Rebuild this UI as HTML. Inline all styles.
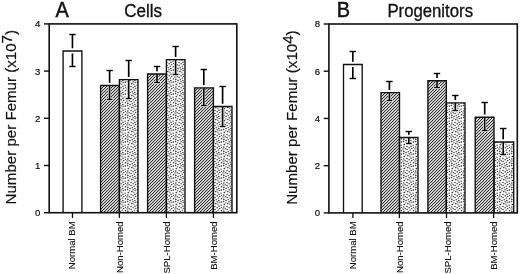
<!DOCTYPE html>
<html><head><meta charset="utf-8"><style>
html,body{margin:0;padding:0;background:#fff;}
body{width:520px;height:274px;overflow:hidden;}
svg{display:block;font-family:"Liberation Sans", sans-serif;will-change:transform;}
text{fill:#111;stroke:#111;stroke-width:0.2px;}
</style></head><body>
<svg width="520" height="274" viewBox="0 0 520 274">
<defs>
<pattern id="hatch" patternUnits="userSpaceOnUse" width="3" height="3">
<rect width="3" height="3" fill="#fff"/>
<path d="M0.375,0 L1.625,0 L0,1.625 L0,0.375 Z M3,0.375 L3,1.625 L1.625,3 L0.375,3 Z" fill="#0a0a0a"/>
</pattern>
<pattern id="dots" patternUnits="userSpaceOnUse" width="12" height="12">
<rect width="12" height="12" fill="#fff"/>
<g fill="#3a3a3a">
<circle cx="5.43" cy="6.72" r="0.81"/>
<circle cx="-0.91" cy="5.59" r="0.76"/>
<circle cx="11.09" cy="5.59" r="0.76"/>
<circle cx="2.22" cy="6.14" r="0.71"/>
<circle cx="7.56" cy="9.52" r="0.82"/>
<circle cx="1.13" cy="3.64" r="0.76"/>
<circle cx="1.09" cy="9.72" r="0.73"/>
<circle cx="8.32" cy="0.50" r="0.84"/>
<circle cx="8.32" cy="12.50" r="0.84"/>
<circle cx="-0.21" cy="-0.42" r="0.78"/>
<circle cx="-0.21" cy="11.58" r="0.78"/>
<circle cx="11.79" cy="-0.42" r="0.78"/>
<circle cx="11.79" cy="11.58" r="0.78"/>
<circle cx="7.85" cy="7.39" r="0.83"/>
<circle cx="1.89" cy="0.18" r="0.66"/>
<circle cx="1.89" cy="12.18" r="0.66"/>
<circle cx="5.29" cy="10.11" r="0.81"/>
<circle cx="5.49" cy="3.34" r="0.66"/>
<circle cx="10.08" cy="8.49" r="0.81"/>
<circle cx="9.20" cy="4.80" r="0.72"/>
<circle cx="2.99" cy="2.28" r="0.82"/>
<circle cx="5.06" cy="1.25" r="0.69"/>
<circle cx="2.86" cy="8.45" r="0.82"/>
<circle cx="-0.99" cy="2.45" r="0.77"/>
<circle cx="11.01" cy="2.45" r="0.77"/>
<circle cx="0.26" cy="7.63" r="0.71"/>
<circle cx="12.26" cy="7.63" r="0.71"/>
<circle cx="3.74" cy="4.57" r="0.71"/>
<circle cx="9.79" cy="10.81" r="0.67"/>
<circle cx="6.99" cy="5.03" r="0.67"/>
<circle cx="7.79" cy="2.95" r="0.79"/>
<circle cx="3.20" cy="10.55" r="0.70"/>
</g>
</pattern>
</defs>
<rect width="520" height="274" fill="#fff"/>
<rect x="63.10" y="51.00" width="18.80" height="161.70" fill="#fff"/>
<line x1="72.45" y1="34.50" x2="72.45" y2="66.50" stroke="#000" stroke-width="1.65"/>
<line x1="69.25" y1="34.50" x2="75.65" y2="34.50" stroke="#000" stroke-width="1.4"/>
<line x1="69.25" y1="66.50" x2="75.65" y2="66.50" stroke="#000" stroke-width="1.4"/>
<rect x="70.95" y="48.30" width="3" height="2.7" fill="#fff"/>
<rect x="70.95" y="51.00" width="3" height="2.4" fill="#fff"/>
<path d="M63.10,212.7 V51.00 H81.90 V212.7" fill="none" stroke="#111" stroke-width="1.35"/>
<rect x="100.60" y="85.50" width="18.80" height="127.20" fill="url(#hatch)"/>
<rect x="119.40" y="79.60" width="18.60" height="133.10" fill="url(#dots)"/>
<rect x="108.30" y="85.50" width="2.6" height="14.80" fill="#fff"/>
<rect x="106.00" y="98.20" width="7.20" height="2.6" fill="#fff"/>
<line x1="109.60" y1="70.50" x2="109.60" y2="99.50" stroke="#000" stroke-width="1.65"/>
<line x1="106.40" y1="70.50" x2="112.80" y2="70.50" stroke="#000" stroke-width="1.4"/>
<line x1="106.70" y1="99.50" x2="112.50" y2="99.50" stroke="#000" stroke-width="1.4"/>
<rect x="127.40" y="79.60" width="2.6" height="19.70" fill="#fff"/>
<rect x="125.10" y="97.20" width="7.20" height="2.6" fill="#fff"/>
<line x1="128.70" y1="60.50" x2="128.70" y2="98.50" stroke="#000" stroke-width="1.65"/>
<line x1="125.50" y1="60.50" x2="131.90" y2="60.50" stroke="#000" stroke-width="1.4"/>
<line x1="125.80" y1="98.50" x2="131.60" y2="98.50" stroke="#000" stroke-width="1.4"/>
<rect x="108.10" y="82.80" width="3" height="2.7" fill="#fff"/>
<rect x="127.20" y="76.90" width="3" height="2.7" fill="#fff"/>
<path d="M100.60,212.7 V85.50 H119.40 V212.7" fill="none" stroke="#111" stroke-width="1.35"/>
<path d="M119.40,212.7 V79.60 H138.00 V212.7" fill="none" stroke="#111" stroke-width="1.35"/>
<rect x="147.60" y="74.00" width="18.80" height="138.70" fill="url(#hatch)"/>
<rect x="166.40" y="59.60" width="18.60" height="153.10" fill="url(#dots)"/>
<rect x="155.70" y="74.00" width="2.6" height="9.30" fill="#fff"/>
<rect x="153.40" y="81.20" width="7.20" height="2.6" fill="#fff"/>
<line x1="157.00" y1="66.50" x2="157.00" y2="82.50" stroke="#000" stroke-width="1.65"/>
<line x1="153.80" y1="66.50" x2="160.20" y2="66.50" stroke="#000" stroke-width="1.4"/>
<line x1="154.10" y1="82.50" x2="159.90" y2="82.50" stroke="#000" stroke-width="1.4"/>
<rect x="174.30" y="59.60" width="2.6" height="15.70" fill="#fff"/>
<rect x="172.00" y="73.20" width="7.20" height="2.6" fill="#fff"/>
<line x1="175.60" y1="46.50" x2="175.60" y2="74.50" stroke="#000" stroke-width="1.65"/>
<line x1="172.40" y1="46.50" x2="178.80" y2="46.50" stroke="#000" stroke-width="1.4"/>
<line x1="172.70" y1="74.50" x2="178.50" y2="74.50" stroke="#000" stroke-width="1.4"/>
<rect x="155.50" y="71.30" width="3" height="2.7" fill="#fff"/>
<rect x="174.10" y="56.90" width="3" height="2.7" fill="#fff"/>
<path d="M147.60,212.7 V74.00 H166.40 V212.7" fill="none" stroke="#111" stroke-width="1.35"/>
<path d="M166.40,212.7 V59.60 H185.00 V212.7" fill="none" stroke="#111" stroke-width="1.35"/>
<rect x="194.60" y="87.80" width="18.80" height="124.90" fill="url(#hatch)"/>
<rect x="213.40" y="106.50" width="18.60" height="106.20" fill="url(#dots)"/>
<rect x="202.50" y="87.80" width="2.6" height="18.50" fill="#fff"/>
<rect x="200.20" y="104.20" width="7.20" height="2.6" fill="#fff"/>
<line x1="203.80" y1="69.50" x2="203.80" y2="105.50" stroke="#000" stroke-width="1.65"/>
<line x1="200.60" y1="69.50" x2="207.00" y2="69.50" stroke="#000" stroke-width="1.4"/>
<line x1="200.90" y1="105.50" x2="206.70" y2="105.50" stroke="#000" stroke-width="1.4"/>
<rect x="221.30" y="106.50" width="2.6" height="20.80" fill="#fff"/>
<rect x="219.00" y="125.20" width="7.20" height="2.6" fill="#fff"/>
<line x1="222.60" y1="86.50" x2="222.60" y2="126.50" stroke="#000" stroke-width="1.65"/>
<line x1="219.40" y1="86.50" x2="225.80" y2="86.50" stroke="#000" stroke-width="1.4"/>
<line x1="219.70" y1="126.50" x2="225.50" y2="126.50" stroke="#000" stroke-width="1.4"/>
<rect x="202.30" y="85.10" width="3" height="2.7" fill="#fff"/>
<rect x="221.10" y="103.80" width="3" height="2.7" fill="#fff"/>
<path d="M194.60,212.7 V87.80 H213.40 V212.7" fill="none" stroke="#111" stroke-width="1.35"/>
<path d="M213.40,212.7 V106.50 H232.00 V212.7" fill="none" stroke="#111" stroke-width="1.35"/>
<rect x="49.2" y="23.9" width="187.60" height="188.80" fill="none" stroke="#111" stroke-width="1.6"/>
<line x1="44.00" y1="212.70" x2="49.2" y2="212.70" stroke="#111" stroke-width="1.4"/>
<text x="40.40" y="216.15" font-size="9.6" text-anchor="end">0</text>
<line x1="44.00" y1="165.50" x2="49.2" y2="165.50" stroke="#111" stroke-width="1.4"/>
<text x="40.40" y="168.95" font-size="9.6" text-anchor="end">1</text>
<line x1="44.00" y1="118.30" x2="49.2" y2="118.30" stroke="#111" stroke-width="1.4"/>
<text x="40.40" y="121.75" font-size="9.6" text-anchor="end">2</text>
<line x1="44.00" y1="71.10" x2="49.2" y2="71.10" stroke="#111" stroke-width="1.4"/>
<text x="40.40" y="74.55" font-size="9.6" text-anchor="end">3</text>
<line x1="44.00" y1="23.90" x2="49.2" y2="23.90" stroke="#111" stroke-width="1.4"/>
<text x="40.40" y="27.35" font-size="9.6" text-anchor="end">4</text>
<line x1="72.5" y1="212.7" x2="72.5" y2="217.89999999999998" stroke="#111" stroke-width="1.3"/>
<text transform="translate(74.90,221.3) rotate(-90) scale(1,1.0)" font-size="9.6" text-anchor="end" style="stroke-width:0.1px">Normal BM</text>
<line x1="119.4" y1="212.7" x2="119.4" y2="217.89999999999998" stroke="#111" stroke-width="1.3"/>
<text transform="translate(123.20,221.3) rotate(-90) scale(1,1.0)" font-size="9.6" text-anchor="end" style="stroke-width:0.1px">Non-Homed</text>
<line x1="166.4" y1="212.7" x2="166.4" y2="217.89999999999998" stroke="#111" stroke-width="1.3"/>
<text transform="translate(169.90,221.3) rotate(-90) scale(1,1.0)" font-size="9.6" text-anchor="end" style="stroke-width:0.1px">SPL-Homed</text>
<line x1="213.4" y1="212.7" x2="213.4" y2="217.89999999999998" stroke="#111" stroke-width="1.3"/>
<text transform="translate(216.70,221.3) rotate(-90) scale(1,1.0)" font-size="9.6" text-anchor="end" style="stroke-width:0.1px">BM-Homed</text>
<text transform="translate(55.6,16.9) scale(0.97,1.1)" font-size="20.5" style="stroke-width:0.45px">A</text>
<text transform="translate(124.2,16.55) scale(1.0,1.03)" font-size="17" style="stroke-width:0.3px">Cells</text>
<text transform="translate(16.4,117.2) rotate(-90) scale(1,1.0)" font-size="15.1" text-anchor="middle">Number per Femur (x10<tspan dy="-4.4">7</tspan><tspan dy="4.4">)</tspan></text>
<rect x="343.50" y="64.50" width="18.70" height="148.40" fill="#fff"/>
<line x1="352.80" y1="51.50" x2="352.80" y2="78.50" stroke="#000" stroke-width="1.65"/>
<line x1="349.60" y1="51.50" x2="356.00" y2="51.50" stroke="#000" stroke-width="1.4"/>
<line x1="349.60" y1="78.50" x2="356.00" y2="78.50" stroke="#000" stroke-width="1.4"/>
<rect x="351.30" y="61.80" width="3" height="2.7" fill="#fff"/>
<rect x="351.30" y="64.50" width="3" height="2.4" fill="#fff"/>
<path d="M343.50,212.9 V64.50 H362.20 V212.9" fill="none" stroke="#111" stroke-width="1.35"/>
<rect x="381.00" y="92.60" width="18.50" height="120.30" fill="url(#hatch)"/>
<rect x="399.50" y="137.50" width="18.50" height="75.40" fill="url(#dots)"/>
<rect x="388.10" y="92.60" width="2.6" height="8.70" fill="#fff"/>
<rect x="385.80" y="99.20" width="7.20" height="2.6" fill="#fff"/>
<line x1="389.40" y1="81.50" x2="389.40" y2="100.50" stroke="#000" stroke-width="1.65"/>
<line x1="386.20" y1="81.50" x2="392.60" y2="81.50" stroke="#000" stroke-width="1.4"/>
<line x1="386.50" y1="100.50" x2="392.30" y2="100.50" stroke="#000" stroke-width="1.4"/>
<rect x="407.50" y="137.50" width="2.6" height="6.80" fill="#fff"/>
<rect x="405.20" y="142.20" width="7.20" height="2.6" fill="#fff"/>
<line x1="408.80" y1="131.50" x2="408.80" y2="143.50" stroke="#000" stroke-width="1.65"/>
<line x1="405.60" y1="131.50" x2="412.00" y2="131.50" stroke="#000" stroke-width="1.4"/>
<line x1="405.90" y1="143.50" x2="411.70" y2="143.50" stroke="#000" stroke-width="1.4"/>
<rect x="387.90" y="89.90" width="3" height="2.7" fill="#fff"/>
<rect x="407.30" y="134.80" width="3" height="2.7" fill="#fff"/>
<path d="M381.00,212.9 V92.60 H399.50 V212.9" fill="none" stroke="#111" stroke-width="1.35"/>
<path d="M399.50,212.9 V137.50 H418.00 V212.9" fill="none" stroke="#111" stroke-width="1.35"/>
<rect x="427.90" y="80.70" width="18.40" height="132.20" fill="url(#hatch)"/>
<rect x="446.30" y="102.80" width="18.70" height="110.10" fill="url(#dots)"/>
<rect x="435.70" y="80.70" width="2.6" height="7.60" fill="#fff"/>
<rect x="433.40" y="86.20" width="7.20" height="2.6" fill="#fff"/>
<line x1="437.00" y1="73.50" x2="437.00" y2="87.50" stroke="#000" stroke-width="1.65"/>
<line x1="433.80" y1="73.50" x2="440.20" y2="73.50" stroke="#000" stroke-width="1.4"/>
<line x1="434.10" y1="87.50" x2="439.90" y2="87.50" stroke="#000" stroke-width="1.4"/>
<rect x="454.00" y="102.80" width="2.6" height="8.50" fill="#fff"/>
<rect x="451.70" y="109.20" width="7.20" height="2.6" fill="#fff"/>
<line x1="455.30" y1="95.50" x2="455.30" y2="110.50" stroke="#000" stroke-width="1.65"/>
<line x1="452.10" y1="95.50" x2="458.50" y2="95.50" stroke="#000" stroke-width="1.4"/>
<line x1="452.40" y1="110.50" x2="458.20" y2="110.50" stroke="#000" stroke-width="1.4"/>
<rect x="435.50" y="78.00" width="3" height="2.7" fill="#fff"/>
<rect x="453.80" y="100.10" width="3" height="2.7" fill="#fff"/>
<path d="M427.90,212.9 V80.70 H446.30 V212.9" fill="none" stroke="#111" stroke-width="1.35"/>
<path d="M446.30,212.9 V102.80 H465.00 V212.9" fill="none" stroke="#111" stroke-width="1.35"/>
<rect x="475.20" y="117.20" width="18.80" height="95.70" fill="url(#hatch)"/>
<rect x="494.00" y="142.00" width="19.70" height="70.90" fill="url(#dots)"/>
<rect x="483.40" y="117.20" width="2.6" height="14.10" fill="#fff"/>
<rect x="481.10" y="129.20" width="7.20" height="2.6" fill="#fff"/>
<line x1="484.70" y1="102.50" x2="484.70" y2="130.50" stroke="#000" stroke-width="1.65"/>
<line x1="481.50" y1="102.50" x2="487.90" y2="102.50" stroke="#000" stroke-width="1.4"/>
<line x1="481.80" y1="130.50" x2="487.60" y2="130.50" stroke="#000" stroke-width="1.4"/>
<rect x="501.90" y="142.00" width="2.6" height="13.30" fill="#fff"/>
<rect x="499.60" y="153.20" width="7.20" height="2.6" fill="#fff"/>
<line x1="503.20" y1="128.50" x2="503.20" y2="154.50" stroke="#000" stroke-width="1.65"/>
<line x1="500.00" y1="128.50" x2="506.40" y2="128.50" stroke="#000" stroke-width="1.4"/>
<line x1="500.30" y1="154.50" x2="506.10" y2="154.50" stroke="#000" stroke-width="1.4"/>
<rect x="483.20" y="114.50" width="3" height="2.7" fill="#fff"/>
<rect x="501.70" y="139.30" width="3" height="2.7" fill="#fff"/>
<path d="M475.20,212.9 V117.20 H494.00 V212.9" fill="none" stroke="#111" stroke-width="1.35"/>
<path d="M494.00,212.9 V142.00 H513.70 V212.9" fill="none" stroke="#111" stroke-width="1.35"/>
<rect x="328.9" y="24.0" width="188.40" height="188.90" fill="none" stroke="#111" stroke-width="1.6"/>
<line x1="323.70" y1="212.90" x2="328.9" y2="212.90" stroke="#111" stroke-width="1.4"/>
<text x="320.10" y="216.35" font-size="9.6" text-anchor="end">0</text>
<line x1="323.70" y1="165.68" x2="328.9" y2="165.68" stroke="#111" stroke-width="1.4"/>
<text x="320.10" y="169.12" font-size="9.6" text-anchor="end">2</text>
<line x1="323.70" y1="118.45" x2="328.9" y2="118.45" stroke="#111" stroke-width="1.4"/>
<text x="320.10" y="121.90" font-size="9.6" text-anchor="end">4</text>
<line x1="323.70" y1="71.22" x2="328.9" y2="71.22" stroke="#111" stroke-width="1.4"/>
<text x="320.10" y="74.67" font-size="9.6" text-anchor="end">6</text>
<line x1="323.70" y1="24.00" x2="328.9" y2="24.00" stroke="#111" stroke-width="1.4"/>
<text x="320.10" y="27.45" font-size="9.6" text-anchor="end">8</text>
<line x1="352.9" y1="212.9" x2="352.9" y2="218.1" stroke="#111" stroke-width="1.3"/>
<text transform="translate(356.00,221.3) rotate(-90) scale(1,1.0)" font-size="9.6" text-anchor="end" style="stroke-width:0.1px">Normal BM</text>
<line x1="399.4" y1="212.9" x2="399.4" y2="218.1" stroke="#111" stroke-width="1.3"/>
<text transform="translate(403.00,221.3) rotate(-90) scale(1,1.0)" font-size="9.6" text-anchor="end" style="stroke-width:0.1px">Non-Homed</text>
<line x1="446.5" y1="212.9" x2="446.5" y2="218.1" stroke="#111" stroke-width="1.3"/>
<text transform="translate(450.60,221.3) rotate(-90) scale(1,1.0)" font-size="9.6" text-anchor="end" style="stroke-width:0.1px">SPL-Homed</text>
<line x1="493.6" y1="212.9" x2="493.6" y2="218.1" stroke="#111" stroke-width="1.3"/>
<text transform="translate(497.10,221.3) rotate(-90) scale(1,1.0)" font-size="9.6" text-anchor="end" style="stroke-width:0.1px">BM-Homed</text>
<text transform="translate(336.8,16.9) scale(0.97,1.1)" font-size="20.5" style="stroke-width:0.45px">B</text>
<text transform="translate(387.4,16.55) scale(0.985,1.03)" font-size="17" style="stroke-width:0.3px">Progenitors</text>
<text transform="translate(297.2,117.6) rotate(-90) scale(1,1.0)" font-size="15.1" text-anchor="middle">Number per Femur (x10<tspan dy="-4.4">4</tspan><tspan dy="4.4">)</tspan></text>
</svg>
</body></html>
